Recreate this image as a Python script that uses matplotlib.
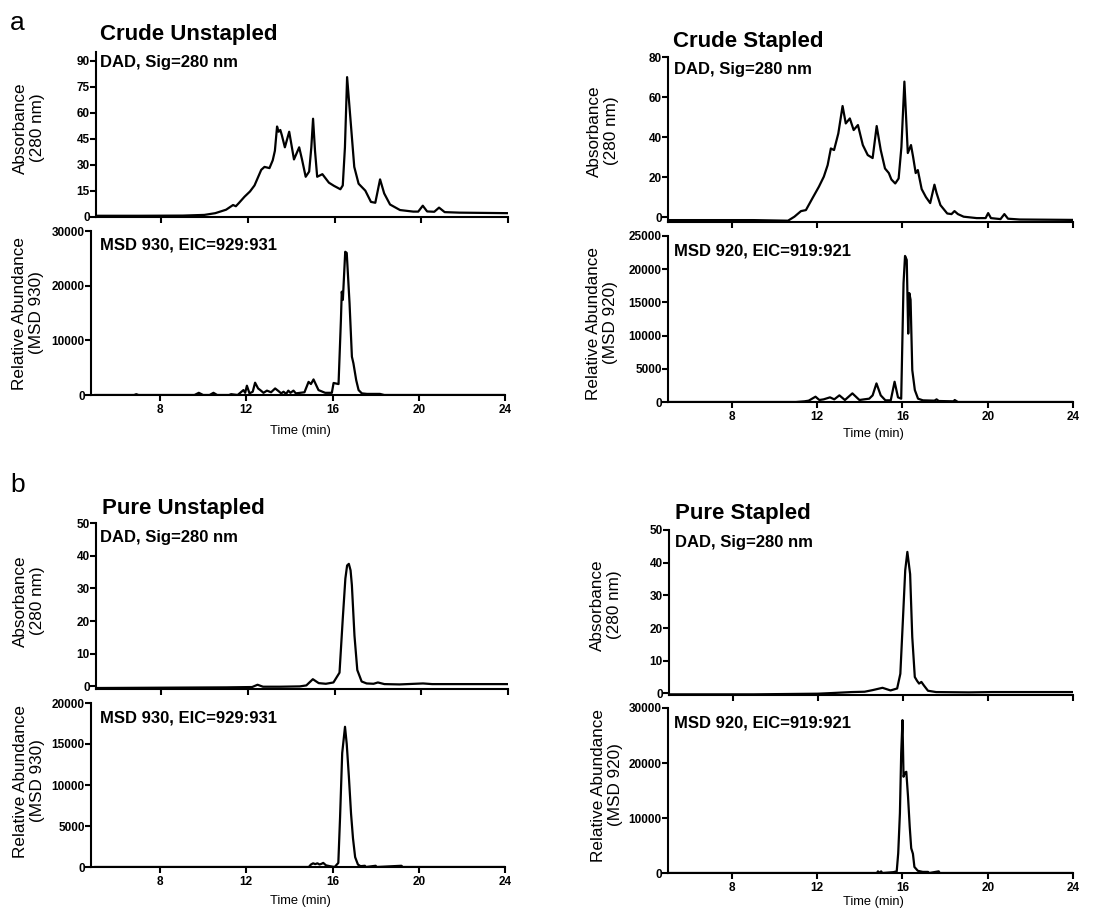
import matplotlib
matplotlib.use("Agg")
import matplotlib.pyplot as plt

plt.rcParams['font.family'] = ['Liberation Sans', 'DejaVu Sans']

# ---------------- data ----------------
# Crude Unstapled, DAD 280 nm
cu_dad_t = [5.0, 7.0, 9.0, 10.0, 10.5, 11.0, 11.32, 11.45, 11.6, 11.85, 12.1, 12.31,
            12.62, 12.77, 13.0, 13.15, 13.25, 13.35, 13.42, 13.5, 13.57, 13.71, 13.91,
            14.13, 14.37, 14.5, 14.67, 14.83, 14.93, 15.01, 15.1, 15.2, 15.44, 15.74,
            15.97, 16.27, 16.38, 16.48, 16.58, 16.73, 16.91, 17.11, 17.42, 17.68, 17.88,
            18.1, 18.29, 18.56, 19.02, 19.63, 19.86, 20.07, 20.27, 20.6, 20.82, 21.08,
            21.76, 24.0]
cu_dad_v = [0.5, 0.5, 0.6, 1.0, 2.0, 4.0, 6.7, 6.0, 8.0, 11.5, 14.5, 18.0,
            27.0, 28.7, 28.0, 32.5, 38.0, 52.0, 49.0, 50.0, 47.0, 40.0, 49.0,
            33.0, 40.0, 33.0, 23.0, 26.0, 40.0, 56.5, 38.0, 23.0, 24.5, 19.6,
            17.8, 15.8, 18.0, 40.0, 80.5, 57.0, 28.7, 19.0, 15.0, 8.5, 8.0,
            21.5, 13.4, 7.0, 3.8, 2.9, 2.9, 6.3, 3.0, 2.8, 5.2, 2.6,
            2.3, 2.0]

# Crude Unstapled, MSD 930
cu_msd_t = [5.0, 6.8, 6.9, 7.0, 9.6, 9.8, 10.0, 10.3, 10.48, 10.65, 11.2, 11.3, 11.6,
            11.87, 11.95, 12.03, 12.15, 12.3, 12.41, 12.55, 12.65, 12.8, 12.96, 13.15,
            13.34, 13.5, 13.62, 13.73, 13.85, 13.95, 14.05, 14.19, 14.3, 14.5, 14.7,
            14.89, 15.0, 15.12, 15.35, 15.66, 15.97, 16.05, 16.28, 16.39, 16.43, 16.48,
            16.59, 16.66, 16.79, 16.9, 16.97, 17.1, 17.21, 17.36, 17.6, 18.2, 18.4,
            19.0, 24.0]
cu_msd_v = [0, 0, 150, 0, 0, 400, 0, 0, 400, 0, 0, 150, 0,
            900, 400, 1700, 300, 600, 2250, 1200, 900, 400, 800, 500,
            1200, 700, 300, 600, 200, 800, 400, 800, 300, 400, 500,
            2400, 2000, 2850, 900, 400, 400, 2200, 2000, 13700, 18900, 17400,
            26200, 26000, 16800, 7000, 5800, 2700, 900, 300, 200, 200, 0,
            0, 0]

# Crude Stapled, DAD 280 nm
cs_dad_t = [5.0, 9.0, 10.63, 10.93, 11.24, 11.47, 11.77, 12.08, 12.31, 12.49, 12.64,
            12.79, 12.99, 13.19, 13.34, 13.53, 13.71, 13.91, 14.14, 14.37, 14.6, 14.79,
            14.98, 15.18, 15.36, 15.48, 15.66, 15.82, 15.95, 16.09, 16.25, 16.4, 16.5,
            16.62, 16.72, 16.9, 17.1, 17.3, 17.5, 17.6, 17.78, 18.1, 18.3, 18.44, 18.6,
            18.87, 19.48, 19.9, 20.02, 20.15, 20.6, 20.78, 20.95, 21.5, 24.0]
cs_dad_v = [-1.5, -1.5, -1.8, 0.2, 3.0, 3.5, 9.3, 15.2, 20.2, 26.0, 34.3,
            33.5, 41.8, 55.5, 46.8, 49.3, 43.5, 46.0, 36.0, 31.0, 29.5, 45.5,
            33.5, 24.3, 22.0, 18.8, 16.8, 19.3, 35.0, 67.7, 32.0, 36.0, 30.0,
            22.0, 23.5, 14.0, 10.0, 7.0, 16.2, 12.0, 6.0, 1.8, 1.5, 3.0, 1.5,
            0.2, -0.5, -0.5, 2.0, -0.5, -1.0, 1.5, -0.8, -1.2, -1.4]

# Crude Stapled, MSD 920
cs_msd_t = [5.0, 11.0, 11.4, 11.6, 11.92, 12.1, 12.3, 12.6, 12.8, 13.04, 13.3, 13.65,
            13.98, 14.2, 14.44, 14.6, 14.78, 14.98, 15.2, 15.45, 15.63, 15.79, 15.94,
            16.05, 16.12, 16.2, 16.27, 16.32, 16.38, 16.46, 16.58, 16.73, 16.96, 17.5,
            17.6, 17.7, 18.4, 18.45, 18.6, 24.0]
cs_msd_v = [0, 0, 100, 200, 800, 300, 400, 700, 400, 1000, 300, 1300,
            300, 400, 500, 1000, 2800, 1000, 250, 250, 3050, 700, 500,
            17900, 22000, 21400, 10300, 16400, 15400, 4800, 1800, 500, 250, 200,
            400, 150, 100, 300, 0, 0]

# Pure Unstapled, DAD 280 nm
pu_dad_t = [5.0, 8.0, 11.0, 12.2, 12.45, 12.7, 13.5, 14.4, 14.7, 15.0, 15.27, 15.6,
            15.95, 16.23, 16.38, 16.5, 16.58, 16.66, 16.74, 16.8, 16.92, 17.05, 17.25,
            17.48, 17.8, 18.0, 18.3, 19.0, 20.08, 20.5, 22.2, 24.0]
pu_dad_v = [-0.5, -0.4, -0.3, -0.2, 0.5, -0.1, -0.1, 0.0, 0.3, 2.2, 1.0, 0.8,
            1.2, 4.2, 20.7, 33.0, 37.0, 37.5, 35.5, 31.0, 15.5, 5.0, 1.5,
            0.9, 0.8, 1.2, 0.7, 0.6, 0.9, 0.7, 0.7, 0.7]

# Pure Unstapled, MSD 930
pu_msd_t = [5.0, 14.9, 15.0, 15.1, 15.2, 15.3, 15.4, 15.5, 15.57, 15.7, 15.88, 16.1,
            16.27, 16.35, 16.45, 16.58, 16.66, 16.76, 16.86, 16.95, 17.05, 17.18, 17.3,
            17.5, 17.55, 18.0, 18.05, 19.2, 19.25, 24.0]
pu_msd_v = [0, 0, 300, 450, 350, 450, 300, 400, 500, 200, 100, 0,
            500, 6000, 13900, 17100, 15000, 11000, 6500, 3500, 1200, 300, 100,
            150, 0, 150, 0, 150, 0, 0]

# Pure Stapled, DAD 280 nm
ps_dad_t = [5.0, 9.0, 12.0, 12.67, 13.28, 13.6, 14.2, 14.58, 15.04, 15.42, 15.73,
            15.88, 16.0, 16.11, 16.21, 16.34, 16.44, 16.56, 16.67, 16.76, 16.87,
            16.99, 17.18, 17.56, 19.1, 20.2, 24.0]
ps_dad_v = [-0.3, -0.3, -0.1, 0.1, 0.3, 0.4, 0.5, 1.0, 1.7, 0.9, 1.5,
            6.0, 22.4, 37.7, 43.3, 36.5, 17.3, 5.0, 3.8, 3.0, 3.5,
            2.4, 0.8, 0.4, 0.3, 0.4, 0.4]

# Pure Stapled, MSD 920
ps_msd_t = [5.0, 14.8, 14.85, 14.9, 15.0, 15.05, 15.57, 15.73, 15.8, 15.88, 15.94,
            16.0, 16.05, 16.11, 16.18, 16.26, 16.34, 16.41, 16.49, 16.56, 16.72, 16.95,
            17.2, 17.25, 17.7, 17.75, 24.0]
ps_msd_v = [0, 0, 300, 0, 300, 0, 150, 300, 3600, 10900, 21800,
            27800, 17500, 18200, 18400, 13900, 8400, 4500, 3500, 1100, 400, 200,
            200, 0, 300, 0, 0]

x_ticks = [8, 12, 16, 20, 24]

# ---------------- layout ----------------
W, H = 1093, 913
fig = plt.figure(figsize=(W / 100, H / 100), dpi=100)


def px_axes(left, top, right, bottom):
    return fig.add_axes([left / W, 1 - bottom / H, (right - left) / W, (bottom - top) / H])


def ftext(x, y, s, **kw):
    fig.text(x / W, 1 - y / H, s, **kw)


# (t, v, box, xlim, ylim, yticks, is_msd)
panels = [
    (cu_dad_t, cu_dad_v, (96, 52, 508, 217.5), (5, 24), (-0.5, 95), range(0, 91, 15), False),
    (cu_msd_t, cu_msd_v, (91, 231, 505, 395), (4.8, 24), (0, 30000), range(0, 30001, 10000), True),
    (cs_dad_t, cs_dad_v, (668, 57, 1073, 221.7), (5, 24), (-2.3, 80), range(0, 81, 20), False),
    (cs_msd_t, cs_msd_v, (668, 236, 1073, 402), (5, 24), (0, 25000), range(0, 25001, 5000), True),
    (pu_dad_t, pu_dad_v, (96, 523, 508, 689), (5, 24), (-0.8, 50), range(0, 51, 10), False),
    (pu_msd_t, pu_msd_v, (91, 703, 505, 867), (4.8, 24), (0, 20000), range(0, 20001, 5000), True),
    (ps_dad_t, ps_dad_v, (669, 530, 1073, 695), (5, 24), (-0.5, 50), range(0, 51, 10), False),
    (ps_msd_t, ps_msd_v, (668, 708, 1073, 873), (5, 24), (0, 30000), range(0, 30001, 10000), True),
]

for t, v, box, xl, yl, yt, is_msd in panels:
    ax = px_axes(*box)
    ax.plot(t, v, color='black', lw=1.6, solid_joinstyle='round')
    ax.set_xlim(*xl)
    ax.set_ylim(*yl)
    ax.set_xticks(x_ticks)
    ax.set_yticks(list(yt))
    for s in ['top', 'right']:
        ax.spines[s].set_visible(False)
    for s in ['left', 'bottom']:
        ax.spines[s].set_linewidth(1.5)
    ax.tick_params(direction='out', length=4, width=1.5, labelsize=8.5)
    ax.tick_params(axis='y', pad=0.5)
    ax.tick_params(axis='x', pad=2.5, labelbottom=is_msd)
    for lab in ax.get_xticklabels() + ax.get_yticklabels():
        lab.set_fontweight('bold')
    ax.patch.set_alpha(0)

# panel letters and titles
ftext(10, 30, 'a', fontsize=19, va='baseline')
ftext(10, 492, 'b', fontsize=19, va='baseline')
ftext(100, 40, 'Crude Unstapled', fontsize=16, fontweight='bold', va='baseline')
ftext(673, 46.5, 'Crude Stapled', fontsize=16, fontweight='bold', va='baseline')
ftext(102, 514, 'Pure Unstapled', fontsize=16, fontweight='bold', va='baseline')
ftext(675, 519, 'Pure Stapled', fontsize=16, fontweight='bold', va='baseline')

# in-plot signal labels
sig_kw = dict(fontsize=12, fontweight='bold', va='baseline')
ftext(100, 67, 'DAD, Sig=280 nm', **sig_kw)
ftext(674, 74, 'DAD, Sig=280 nm', **sig_kw)
ftext(100, 542, 'DAD, Sig=280 nm', **sig_kw)
ftext(675, 547, 'DAD, Sig=280 nm', **sig_kw)
ftext(100, 249, 'MSD 930, EIC=929:931', **sig_kw)
ftext(674, 255, 'MSD 920, EIC=919:921', **sig_kw)
ftext(100, 722, 'MSD 930, EIC=929:931', **sig_kw)
ftext(674, 728, 'MSD 920, EIC=919:921', **sig_kw)

# y-axis labels
yl_kw = dict(fontsize=12.3, rotation=90, ha='center', va='center', multialignment='center')
ftext(29, 128, 'Absorbance\n(280 nm)', **yl_kw)
ftext(603, 131, 'Absorbance\n(280 nm)', **yl_kw)
ftext(29, 601, 'Absorbance\n(280 nm)', **yl_kw)
ftext(606, 605, 'Absorbance\n(280 nm)', **yl_kw)
ftext(28, 313, 'Relative Abundance\n(MSD 930)', **yl_kw)
ftext(602, 323, 'Relative Abundance\n(MSD 920)', **yl_kw)
ftext(29, 781, 'Relative Abundance\n(MSD 930)', **yl_kw)
ftext(607, 785, 'Relative Abundance\n(MSD 920)', **yl_kw)

# x-axis labels
xl_kw = dict(fontsize=9.3, ha='center', va='center')
ftext(300, 431, 'Time (min)', **xl_kw)
ftext(873, 434, 'Time (min)', **xl_kw)
ftext(300, 901, 'Time (min)', **xl_kw)
ftext(873, 901.5, 'Time (min)', **xl_kw)

fig.savefig('out.png', dpi=100, facecolor='white')
